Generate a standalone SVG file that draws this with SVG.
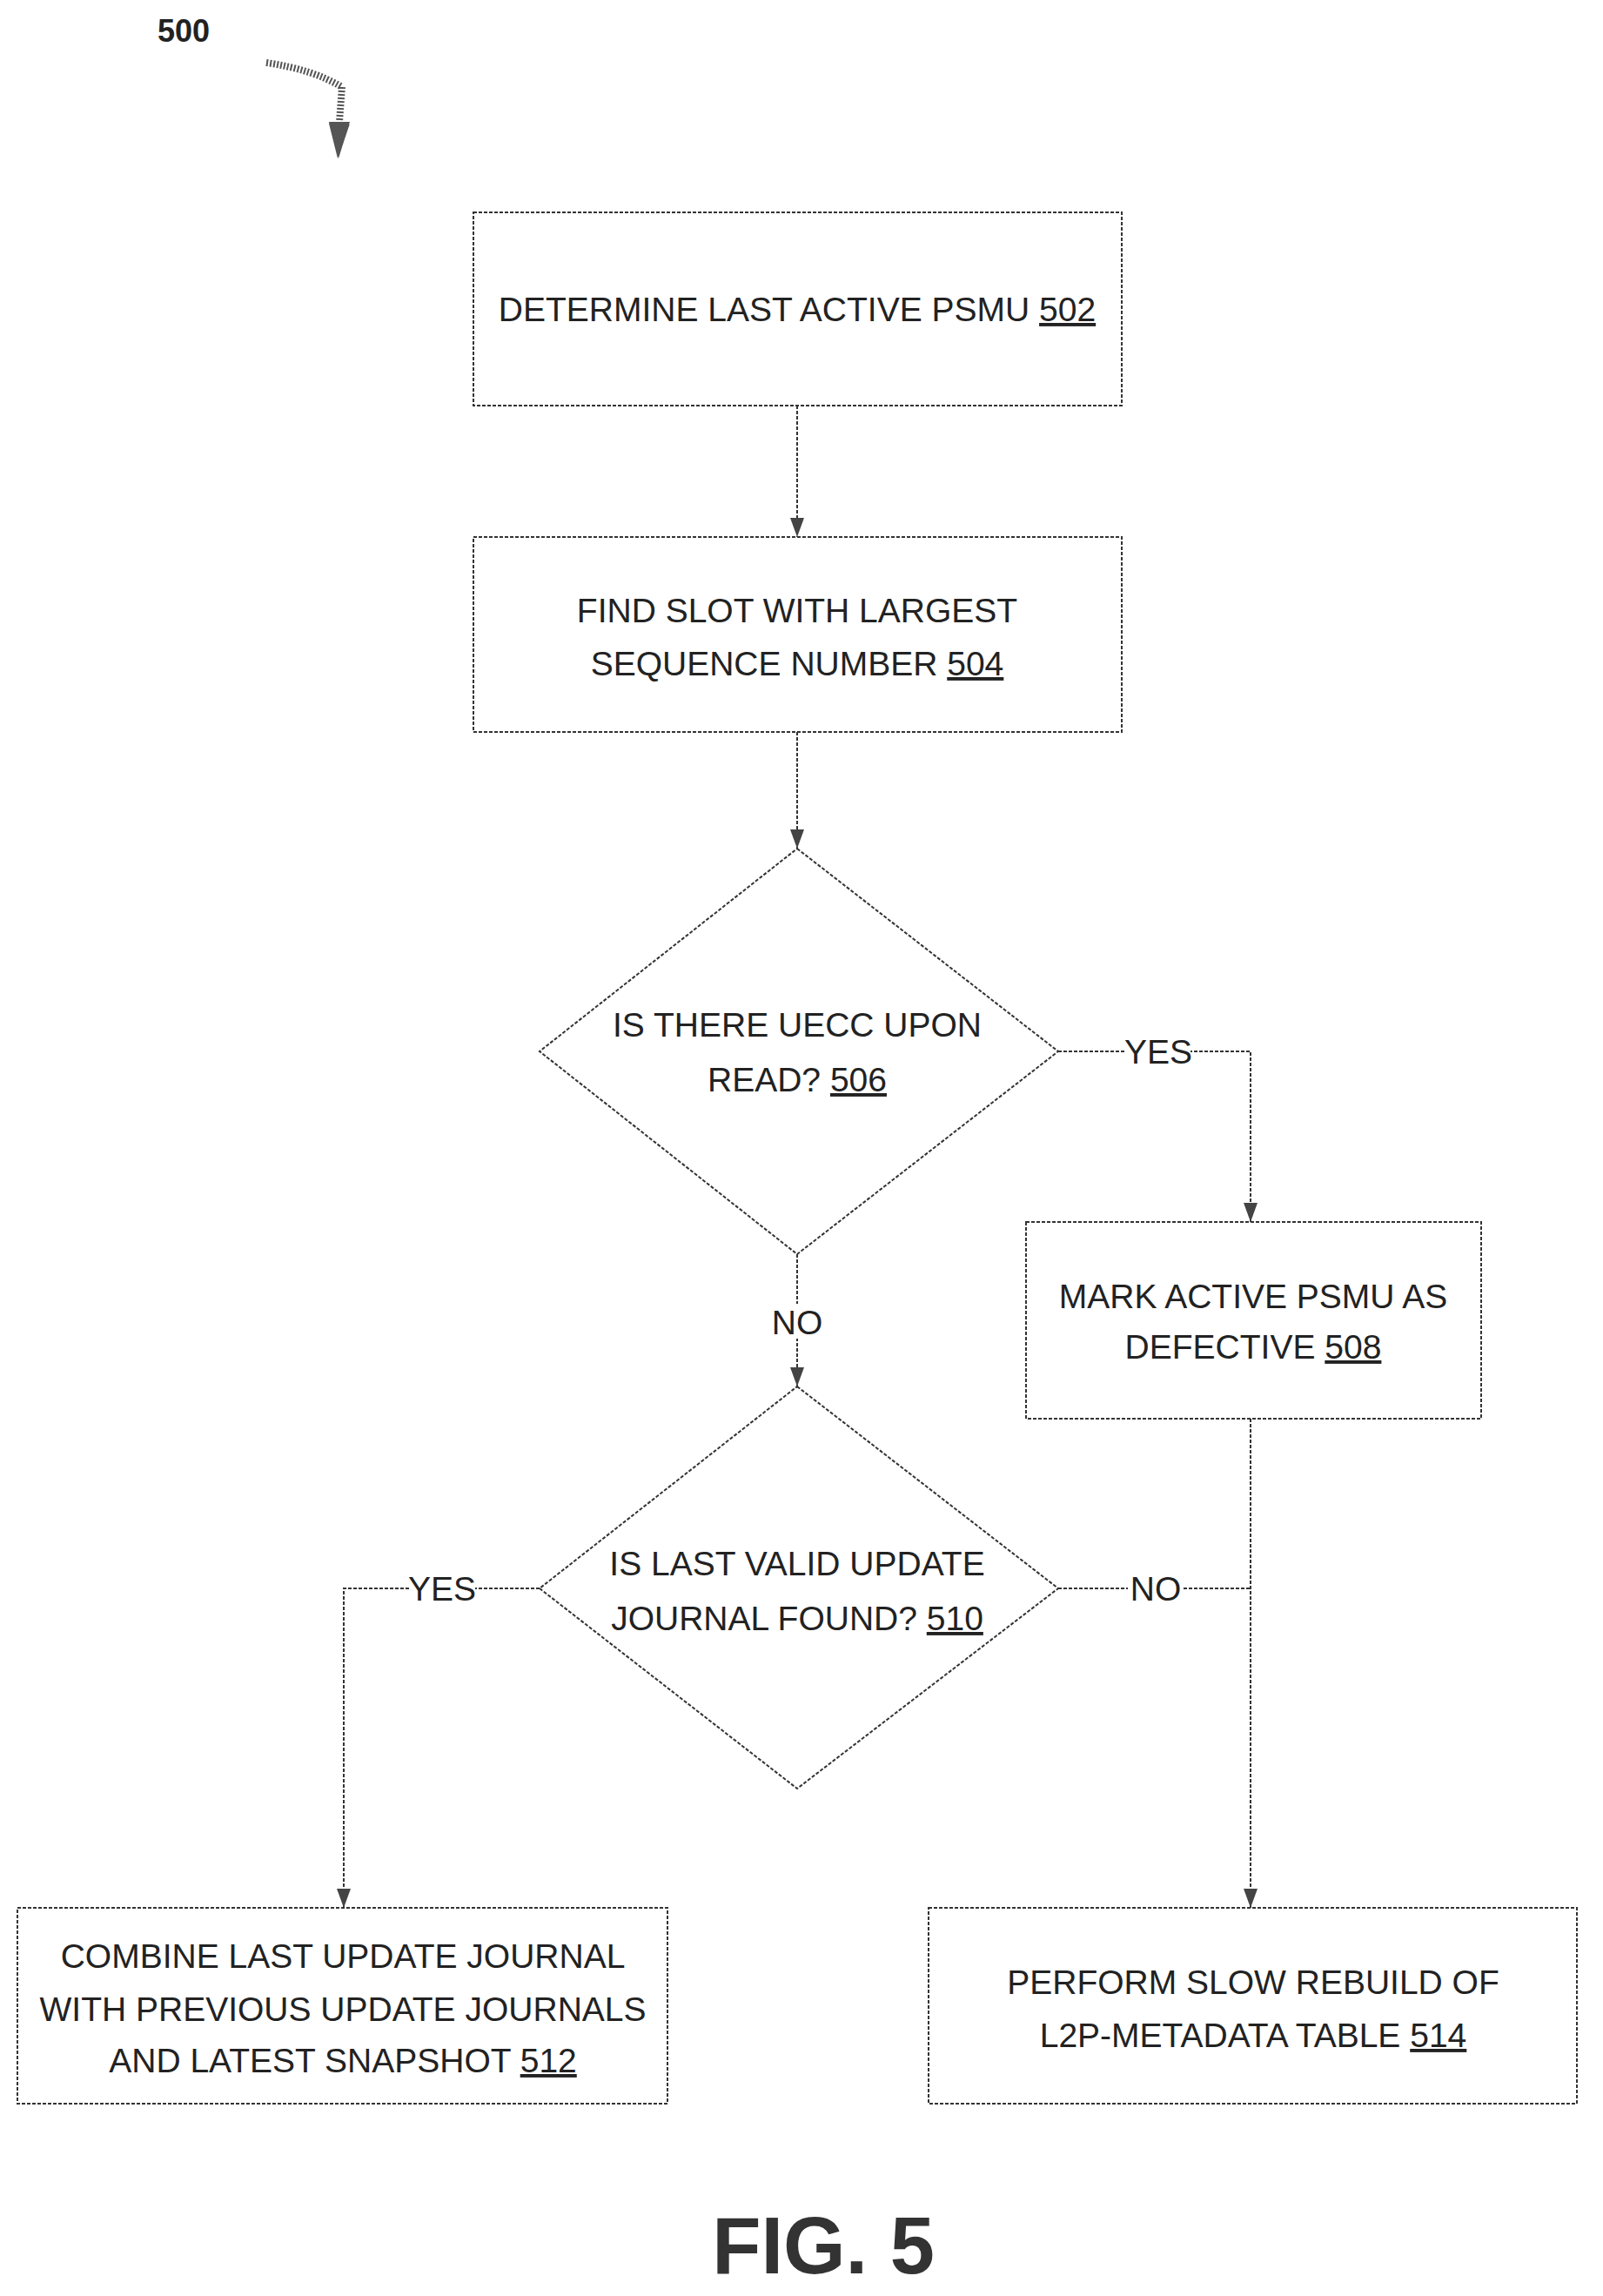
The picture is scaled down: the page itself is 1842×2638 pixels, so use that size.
<svg xmlns="http://www.w3.org/2000/svg" width="1842" height="2638" viewBox="0 0 1842 2638">
<style>
.b{fill:#fff;stroke:#333;stroke-width:2;stroke-dasharray:4,2}
.l{fill:none;stroke:#333;stroke-width:2;stroke-dasharray:4,2}
.t{font-family:"Liberation Sans",Arial,sans-serif;font-size:39px;fill:#222;text-anchor:middle}
.n{text-decoration:underline}
</style>
<defs><marker id="a" markerWidth="22" markerHeight="16" refX="22" refY="8" orient="auto" markerUnits="userSpaceOnUse" viewBox="0 0 22 16"><path d="M0,0 L22,8 L0,16 Z" fill="#444"/></marker>
<marker id="r" markerWidth="40" markerHeight="24" refX="40" refY="12" orient="auto" markerUnits="userSpaceOnUse" viewBox="0 0 40 24"><path d="M0,0 L40,12 L0,24 Z" fill="#555"/></marker></defs>
<text x="181" y="48" style="font-family:'Liberation Sans',Arial,sans-serif;font-size:36px;font-weight:bold;fill:#222">500</text>
<path d="M306,72 Q360,80 393,100 L390,140" fill="none" stroke="#555" stroke-width="8" stroke-dasharray="2,2"/>
<line x1="390" y1="140" x2="388" y2="182" stroke="none" marker-end="url(#r)"/>
<path d="M378,140 L402,140 L389,182 Z" fill="#555"/>
<g id="connectors">
<line class="l" x1="916" y1="466" x2="916" y2="617" marker-end="url(#a)"/>
<line class="l" x1="916" y1="841" x2="916" y2="975" marker-end="url(#a)"/>
<polyline class="l" points="1216,1208 1437,1208 1437,1404" marker-end="url(#a)"/>
<line class="l" x1="916" y1="1441" x2="916" y2="1593" marker-end="url(#a)"/>
<polyline class="l" points="620,1825 395,1825 395,2192" marker-end="url(#a)"/>
<line class="l" x1="1216" y1="1825" x2="1437" y2="1825"/>
<line class="l" x1="1437" y1="1630" x2="1437" y2="2192" marker-end="url(#a)"/>
<rect x="1294" y="1188" width="74" height="40" fill="#fff"/><text class="t" x="1331" y="1222">YES</text>
<rect x="884" y="1498" width="64" height="40" fill="#fff"/><text class="t" x="916" y="1533">NO</text>
<rect x="470" y="1805" width="76" height="40" fill="#fff"/><text class="t" x="508" y="1839">YES</text>
<rect x="1296" y="1805" width="64" height="40" fill="#fff"/><text class="t" x="1328" y="1839">NO</text>
</g>
<g id="n502"><rect class="b" x="544" y="244" width="745" height="222"/><text class="t" x="916" y="369">DETERMINE LAST ACTIVE PSMU <tspan class="n">502</tspan></text></g>
<g id="n504"><rect class="b" x="544" y="617" width="745" height="224"/><text class="t" x="916" y="715">FIND SLOT WITH LARGEST</text><text class="t" x="916" y="776">SEQUENCE NUMBER <tspan class="n">504</tspan></text></g>
<g id="n506"><polygon class="b" points="916,975 1216,1208 916,1441 620,1208"/><text class="t" x="916" y="1191">IS THERE UECC UPON</text><text class="t" x="916" y="1254">READ? <tspan class="n">506</tspan></text></g>
<g id="n508"><rect class="b" x="1179" y="1404" width="523" height="226"/><text class="t" x="1440" y="1503">MARK ACTIVE PSMU AS</text><text class="t" x="1440" y="1561">DEFECTIVE <tspan class="n">508</tspan></text></g>
<g id="n510"><polygon class="b" points="916,1593 1216,1825 916,2055 620,1825"/><text class="t" x="916" y="1810">IS LAST VALID UPDATE</text><text class="t" x="916" y="1873">JOURNAL FOUND? <tspan class="n">510</tspan></text></g>
<g id="n512"><rect class="b" x="20" y="2192" width="747" height="225"/><text class="t" x="394" y="2261">COMBINE LAST UPDATE JOURNAL</text><text class="t" x="394" y="2322">WITH PREVIOUS UPDATE JOURNALS</text><text class="t" x="394" y="2381">AND LATEST SNAPSHOT  <tspan class="n">512</tspan></text></g>
<g id="n514"><rect class="b" x="1067" y="2192" width="745" height="225"/><text class="t" x="1440" y="2291">PERFORM SLOW REBUILD OF</text><text class="t" x="1440" y="2352">L2P-METADATA TABLE  <tspan class="n">514</tspan></text></g>
<text x="946" y="2612" style="font-family:'Liberation Sans',Arial,sans-serif;font-size:92px;font-weight:bold;fill:#333;text-anchor:middle">FIG. 5</text>
</svg>
